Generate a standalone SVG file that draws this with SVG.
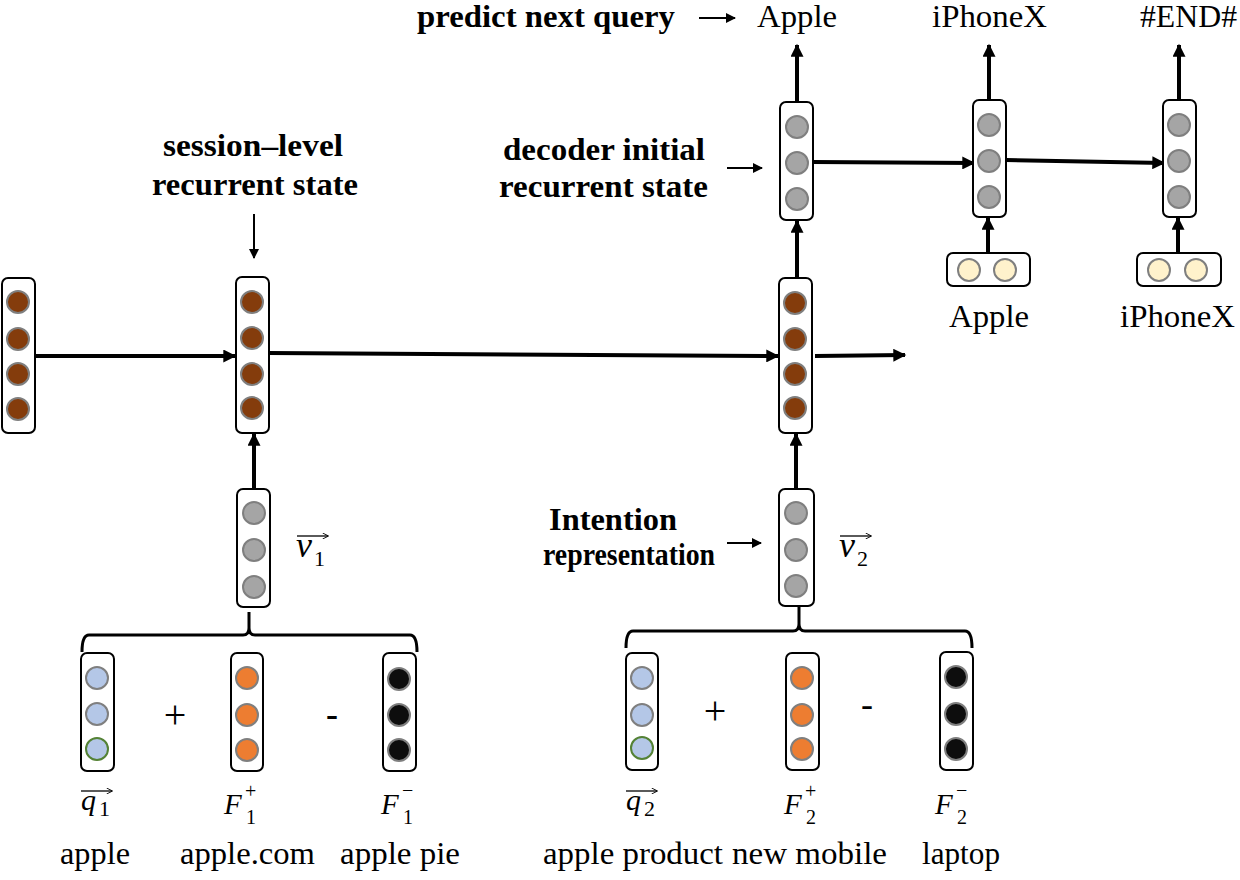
<svg xmlns="http://www.w3.org/2000/svg" width="1240" height="880" viewBox="0 0 1240 880">
<defs>
<marker id="ah" viewBox="0 0 10 10" markerWidth="14" markerHeight="13" refX="9" refY="5" orient="auto" markerUnits="userSpaceOnUse"><path d="M0,0 L10,5 L0,10 z" fill="#000"/></marker>
<marker id="ahs" viewBox="0 0 10 10" markerWidth="11" markerHeight="10" refX="9" refY="5" orient="auto" markerUnits="userSpaceOnUse"><path d="M0,0 L10,5 L0,10 z" fill="#000"/></marker>
<marker id="aht" viewBox="0 0 10 10" markerWidth="7" markerHeight="6" refX="9" refY="5" orient="auto" markerUnits="userSpaceOnUse"><path d="M0,0 L10,5 L0,10" fill="none" stroke="#000" stroke-width="1.5"/></marker>
<style>
.box{fill:#fff;stroke:#000;stroke-width:2}
circle{stroke:#7f7f7f;stroke-width:2}
.br{fill:#843c0c}
.gr{fill:#a5a5a5}
.bl{fill:#b4c7e7}
.bg{fill:#b4c7e7;stroke:#548235}
.or{fill:#ed7d31}
.bk{fill:#0d0d0d}
.cr{fill:#fff2cc}
text{font-family:"Liberation Serif","DejaVu Serif",serif;fill:#000}
.t{font-size:32px}
.b{font-size:31px;font-weight:bold}
.m{font-style:italic;font-size:30px}
.f{font-style:italic;font-size:29px}
.s{font-size:22px}
.u{font-size:20px}
.c{stroke:#000;stroke-width:4;fill:none}
.l{stroke:#000;stroke-width:2;fill:none}
.o{stroke:#000;stroke-width:1.3;fill:none}
.brace{stroke:#000;stroke-width:3;fill:none}
</style>
</defs>

<g id="connectors">
<line class="c" x1="35" y1="356" x2="235" y2="356" marker-end="url(#ah)"/>
<line class="c" x1="269" y1="353" x2="778" y2="356" marker-end="url(#ah)"/>
<line class="c" x1="815" y1="356" x2="905" y2="355" marker-end="url(#ah)"/>
<line class="c" x1="254" y1="489" x2="254" y2="434" marker-end="url(#ah)"/>
<line class="c" x1="796" y1="489" x2="796" y2="434" marker-end="url(#ah)"/>
<line class="c" x1="797" y1="278" x2="797" y2="221" marker-end="url(#ah)"/>
<line class="c" x1="797" y1="102" x2="797" y2="45" marker-end="url(#ah)"/>
<line class="c" x1="989" y1="100" x2="989" y2="45" marker-end="url(#ah)"/>
<line class="c" x1="1179" y1="100" x2="1179" y2="45" marker-end="url(#ah)"/>
<line class="c" x1="813" y1="162" x2="974" y2="163" marker-end="url(#ah)"/>
<line class="c" x1="1006" y1="160" x2="1164" y2="163" marker-end="url(#ah)"/>
<line class="c" x1="988" y1="253" x2="988" y2="218" marker-end="url(#ah)"/>
<line class="c" x1="1178" y1="253" x2="1178" y2="218" marker-end="url(#ah)"/>
<line class="l" x1="254" y1="214" x2="254" y2="258" marker-end="url(#ahs)"/>
<line class="l" x1="727" y1="168" x2="762" y2="168" marker-end="url(#ahs)"/>
<line class="l" x1="727" y1="543" x2="761" y2="543" marker-end="url(#ahs)"/>
<line class="l" x1="699" y1="18" x2="735" y2="18" marker-end="url(#ahs)"/>
<path class="brace" d="M82,652 Q82,635 89,635 L243,635 Q249,635 249,628 L249,612 M249,628 Q249,635 255,635 L410,635 Q417,635 417,652"/>
<path class="brace" d="M626,648 Q626,631 633,631 L793,631 Q799,631 799,624 L799,606 M799,624 Q799,631 805,631 L965,631 Q972,631 972,648"/>
</g>

<g id="state0">
<rect class="box" x="2" y="278" width="33" height="155" rx="6"/>
<circle class="br" cx="18" cy="302" r="11"/><circle class="br" cx="18" cy="339" r="11"/><circle class="br" cx="18" cy="374" r="11"/><circle class="br" cx="18" cy="409" r="11"/>
</g>
<g id="state1">
<rect class="box" x="236" y="277" width="33" height="156" rx="6"/>
<circle class="br" cx="252" cy="302" r="11"/><circle class="br" cx="252" cy="338" r="11"/><circle class="br" cx="252" cy="374" r="11"/><circle class="br" cx="252" cy="408" r="11"/>
</g>
<g id="state2">
<rect class="box" x="779" y="278" width="33" height="155" rx="6"/>
<circle class="br" cx="795" cy="303" r="11"/><circle class="br" cx="795" cy="339" r="11"/><circle class="br" cx="795" cy="374" r="11"/><circle class="br" cx="795" cy="408" r="11"/>
</g>

<g id="v1">
<rect class="box" x="237" y="489" width="33" height="118" rx="6"/>
<circle class="gr" cx="254" cy="513" r="11"/><circle class="gr" cx="254" cy="550" r="11"/><circle class="gr" cx="254" cy="587" r="11"/>
<line class="o" x1="297" y1="536" x2="328" y2="536" marker-end="url(#aht)"/>
<text class="m" x="296" y="557" style="font-size:36px">v</text><text class="s" x="314" y="566">1</text>
</g>
<g id="v2">
<rect class="box" x="779" y="489" width="35" height="117" rx="6"/>
<circle class="gr" cx="796" cy="513" r="11"/><circle class="gr" cx="796" cy="550" r="11"/><circle class="gr" cx="796" cy="586" r="11"/>
<line class="o" x1="840" y1="536" x2="871" y2="536" marker-end="url(#aht)"/>
<text class="m" x="839" y="557" style="font-size:36px">v</text><text class="s" x="857" y="566">2</text>
</g>

<g id="dec1">
<rect class="box" x="780" y="102" width="33" height="118" rx="6"/>
<circle class="gr" cx="797" cy="127" r="11"/><circle class="gr" cx="797" cy="163" r="11"/><circle class="gr" cx="797" cy="199" r="11"/>
</g>
<g id="dec2">
<rect class="box" x="973" y="100" width="33" height="117" rx="6"/>
<circle class="gr" cx="989" cy="125" r="11"/><circle class="gr" cx="989" cy="161" r="11"/><circle class="gr" cx="989" cy="197" r="11"/>
</g>
<g id="dec3">
<rect class="box" x="1163" y="100" width="33" height="117" rx="6"/>
<circle class="gr" cx="1179" cy="125" r="11"/><circle class="gr" cx="1179" cy="161" r="11"/><circle class="gr" cx="1179" cy="197" r="11"/>
</g>
<g id="in2">
<rect class="box" x="947" y="253" width="83" height="33" rx="6"/>
<circle class="cr" cx="969" cy="270" r="11"/><circle class="cr" cx="1005" cy="270" r="11"/>
</g>
<g id="in3">
<rect class="box" x="1137" y="253" width="84" height="33" rx="6"/>
<circle class="cr" cx="1159" cy="270" r="11"/><circle class="cr" cx="1196" cy="270" r="11"/>
</g>

<g id="q1">
<rect class="box" x="81" y="653" width="33" height="118" rx="6"/>
<circle class="bl" cx="97" cy="678" r="11"/><circle class="bl" cx="97" cy="714" r="11"/><circle class="bg" cx="97" cy="749" r="11"/>
<line class="o" x1="81" y1="791" x2="112" y2="791" marker-end="url(#aht)"/>
<text class="m" x="81" y="810">q</text><text class="s" x="99" y="816">1</text>
</g>
<g id="f1p">
<rect class="box" x="231" y="653" width="32" height="118" rx="6"/>
<circle class="or" cx="247" cy="678" r="11"/><circle class="or" cx="247" cy="715" r="11"/><circle class="or" cx="247" cy="750" r="11"/>
<text class="f" x="224" y="814">F</text><text class="u" x="245" y="798">+</text><text class="u" x="246" y="824">1</text>
</g>
<g id="f1m">
<rect class="box" x="383" y="653" width="33" height="118" rx="6"/>
<circle class="bk" cx="399" cy="679" r="11"/><circle class="bk" cx="399" cy="715" r="11"/><circle class="bk" cx="399" cy="750" r="11"/>
<text class="f" x="381" y="814">F</text><text class="u" x="402" y="797">−</text><text class="u" x="403" y="824">1</text>
</g>
<g id="q2">
<rect class="box" x="626" y="653" width="32" height="117" rx="6"/>
<circle class="bl" cx="642" cy="678" r="11"/><circle class="bl" cx="642" cy="715" r="11"/><circle class="bg" cx="642" cy="748" r="11"/>
<line class="o" x1="626" y1="791" x2="657" y2="791" marker-end="url(#aht)"/>
<text class="m" x="626" y="810">q</text><text class="s" x="644" y="816">2</text>
</g>
<g id="f2p">
<rect class="box" x="786" y="653" width="33" height="117" rx="6"/>
<circle class="or" cx="802" cy="678" r="11"/><circle class="or" cx="802" cy="715" r="11"/><circle class="or" cx="802" cy="749" r="11"/>
<text class="f" x="784" y="814">F</text><text class="u" x="805" y="798">+</text><text class="u" x="806" y="824">2</text>
</g>
<g id="f2m">
<rect class="box" x="940" y="652" width="33" height="118" rx="6"/>
<circle class="bk" cx="956" cy="677" r="11"/><circle class="bk" cx="956" cy="714" r="11"/><circle class="bk" cx="956" cy="749" r="11"/>
<text class="f" x="935" y="814">F</text><text class="u" x="956" y="797">−</text><text class="u" x="957" y="824">2</text>
</g>

<g id="labels">
<text class="b" x="417" y="27" textLength="258" lengthAdjust="spacingAndGlyphs">predict next query</text>
<text class="b" x="163" y="156" textLength="180" lengthAdjust="spacingAndGlyphs">session–level</text>
<text class="b" x="152" y="195" textLength="206" lengthAdjust="spacingAndGlyphs">recurrent state</text>
<text class="b" x="503" y="160" textLength="202" lengthAdjust="spacingAndGlyphs">decoder initial</text>
<text class="b" x="499" y="197" textLength="209" lengthAdjust="spacingAndGlyphs">recurrent state</text>
<text class="b" x="549" y="530" textLength="128" lengthAdjust="spacingAndGlyphs" style="font-size:32px">Intention</text>
<text class="b" x="543" y="565" textLength="172" lengthAdjust="spacingAndGlyphs" style="font-size:32px">representation</text>
<text class="t" x="757" y="27" textLength="80" lengthAdjust="spacingAndGlyphs">Apple</text>
<text class="t" x="932" y="27" textLength="115" lengthAdjust="spacingAndGlyphs">iPhoneX</text>
<text class="t" x="1140" y="27" textLength="97" lengthAdjust="spacingAndGlyphs">#END#</text>
<text class="t" x="949" y="327" textLength="80" lengthAdjust="spacingAndGlyphs">Apple</text>
<text class="t" x="1120" y="327" textLength="115" lengthAdjust="spacingAndGlyphs">iPhoneX</text>
<text class="t" x="60" y="864" textLength="70" lengthAdjust="spacingAndGlyphs">apple</text>
<text class="t" x="180" y="864" textLength="135" lengthAdjust="spacingAndGlyphs">apple.com</text>
<text class="t" x="340" y="864" textLength="120" lengthAdjust="spacingAndGlyphs">apple pie</text>
<text class="t" x="543" y="864" textLength="180" lengthAdjust="spacingAndGlyphs">apple product</text>
<text class="t" x="732" y="864" textLength="155" lengthAdjust="spacingAndGlyphs">new mobile</text>
<text class="t" x="922" y="864" textLength="78" lengthAdjust="spacingAndGlyphs">laptop</text>
<text x="175" y="728" text-anchor="middle" style="font-size:40px">+</text>
<text x="332" y="726" text-anchor="middle" style="font-size:36px;font-weight:bold">-</text>
<text x="715" y="724" text-anchor="middle" style="font-size:40px">+</text>
<text x="867" y="716" text-anchor="middle" style="font-size:36px">-</text>
</g>
</svg>
